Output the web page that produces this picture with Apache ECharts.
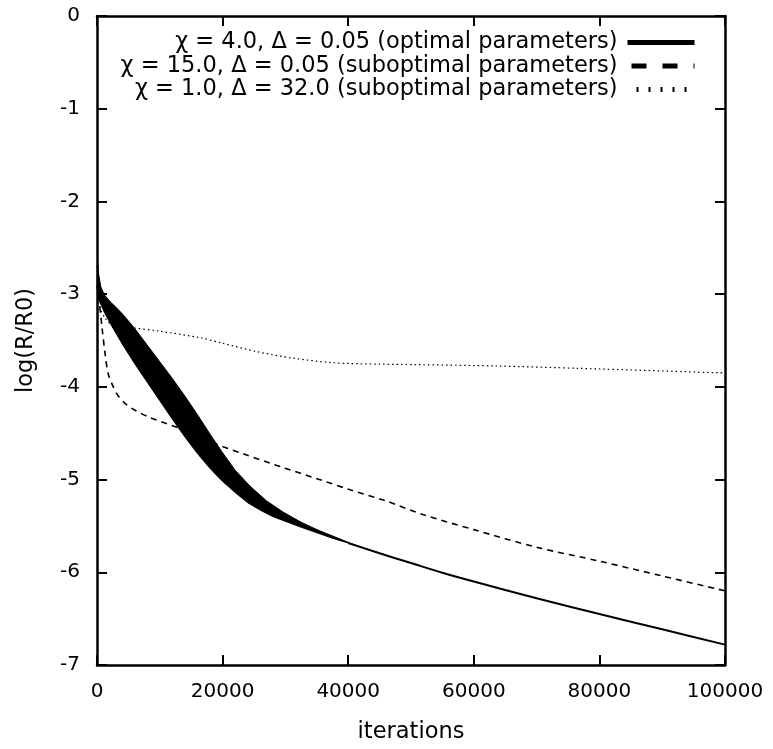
<!DOCTYPE html>
<html>
<head>
<meta charset="utf-8">
<script src="https://cdn.jsdelivr.net/npm/echarts@6/dist/echarts.min.js"></script>
<style>
html,body{margin:0;padding:0;background:#fff;}
#c{width:773px;height:749px;}
</style>
</head>
<body>
<div id="c"></div>
<script>
// Series names
const names = [
  'χ = 4.0, Δ = 0.05 (optimal parameters)',
  'χ = 15.0, Δ = 0.05 (suboptimal parameters)',
  'χ = 1.0, Δ = 32.0 (suboptimal parameters)'
];
// Optimal run: oscillation envelope (upper / lower) then a single line
const optUpper = [[0,-2.55],[250,-2.78],[600,-2.92],[1200,-3.01],[2070,-3.08],[3000,-3.14],[4140,-3.22],[6000,-3.37],[8000,-3.55],[10000,-3.73],[12000,-3.91],[14000,-4.10],[16000,-4.30],[18000,-4.51],[20000,-4.71],[22000,-4.90],[24360,-5.07],[27000,-5.23],[29620,-5.35],[32500,-5.46],[35030,-5.54],[40290,-5.685],[45000,-5.795]];
const optLower = [[0,-3.00],[478,-3.09],[1200,-3.20],[2070,-3.31],[3000,-3.42],[4140,-3.55],[6000,-3.75],[8000,-3.95],[10000,-4.15],[12000,-4.35],[14000,-4.54],[16000,-4.72],[18000,-4.88],[20000,-5.02],[22000,-5.14],[24000,-5.25],[26000,-5.33],[28030,-5.40],[32330,-5.51],[37580,-5.635],[40290,-5.69],[45000,-5.795]];
const optTail = [[40000,-5.685],[45000,-5.795],[50000,-5.90],[55000,-6.005],[60000,-6.10],[70000,-6.28],[80000,-6.45],[90000,-6.615],[100000,-6.78]];
// Suboptimal chi=15
const sub15 = [[0,-2.9],[300,-3.05],[800,-3.36],[1300,-3.65],[1750,-3.85],[2400,-3.97],[3300,-4.09],[4500,-4.18],[6000,-4.25],[8400,-4.33],[13200,-4.45],[17900,-4.59],[23600,-4.73],[29600,-4.87],[35000,-4.99],[40300,-5.11],[46000,-5.23],[52000,-5.38],[60000,-5.54],[70000,-5.73],[80000,-5.88],[90000,-6.04],[100000,-6.20]];
// Suboptimal chi=1
const sub1 = [[0,-2.7],[300,-3.1],[1300,-3.26],[2400,-3.33],[5370,-3.36],[10000,-3.40],[16400,-3.47],[20000,-3.53],[25400,-3.62],[31200,-3.69],[37700,-3.74],[45000,-3.755],[50600,-3.76],[63600,-3.775],[76600,-3.80],[100000,-3.85]];
// Axis ticks
const xTicks = {min:0, max:100000, step:20000};
const yTicks = {min:-7, max:0, step:1};

const FONT = 'DejaVu Sans';
const chart = echarts.init(document.getElementById('c'), null, {renderer:'canvas'});

const axLine = {show:true, onZero:false, lineStyle:{color:'#000', width:2.5}};
const axTick = {show:true, inside:true, length:10, lineStyle:{color:'#000', width:2}};
const hideDot = {opacity:0};

chart.setOption({
  animation:false,
  backgroundColor:'#fff',
  color:['#000','#000','#000','#000'],
  textStyle:{fontFamily:FONT},
  grid:{left:97, right:48, top:16, bottom:79.5, containLabel:false},
  legend:{
    orient:'vertical', right:76, top:31, align:'right',
    itemWidth:67, itemHeight:14, itemGap:0.5, padding:0,
    textStyle:{fontFamily:FONT, fontSize:22.5, color:'#000', padding:[0,5,0,0]},
    data:[
      {name:names[0], itemStyle:hideDot, lineStyle:{width:5, type:'solid', color:'#000'}},
      {name:names[1], itemStyle:hideDot, lineStyle:{width:5, type:[15,16], dashOffset:27, color:'#000'}},
      {name:names[2], itemStyle:hideDot, lineStyle:{width:5, type:[2,10], color:'#000'}}
    ]
  },
  xAxis:[
    {type:'value', position:'bottom', min:xTicks.min, max:xTicks.max, interval:xTicks.step,
     name:'iterations', nameLocation:'middle', nameGap:56,
     nameTextStyle:{fontFamily:FONT, fontSize:22.5, color:'#000'},
     axisLine:axLine, axisTick:axTick, splitLine:{show:false},
     axisLabel:{fontFamily:FONT, fontSize:20, color:'#000', margin:17, formatter:v=>String(v)}},
    {type:'value', position:'top', min:xTicks.min, max:xTicks.max, interval:xTicks.step,
     axisLine:axLine, axisTick:axTick, splitLine:{show:false}, axisLabel:{show:false}}
  ],
  yAxis:[
    {type:'value', position:'left', min:yTicks.min, max:yTicks.max, interval:yTicks.step,
     name:'log(R/R0)', nameLocation:'middle', nameGap:59, nameRotate:90,
     nameTextStyle:{fontFamily:FONT, fontSize:22.5, color:'#000'},
     axisLine:axLine, axisTick:axTick, splitLine:{show:false},
     axisLabel:{fontFamily:FONT, fontSize:20, color:'#000', margin:17, formatter:v=>String(v)}},
    {type:'value', position:'right', min:yTicks.min, max:yTicks.max, interval:yTicks.step,
     axisLine:axLine, axisTick:axTick, splitLine:{show:false}, axisLabel:{show:false}}
  ],
  series:[
    {name:names[0], type:'line', data:optTail, symbol:'none', smooth:0.3,
     itemStyle:{color:'#000'}, lineStyle:{color:'#000', width:2}, z:5},
    {name:names[0], type:'custom', data:[[optUpper[0][0], optUpper[0][1]]], clip:true, z:5,
     itemStyle:{color:'#000'},
     renderItem:function(params, api){
       const pts = optUpper.map(p=>api.coord(p)).concat(optLower.slice().reverse().map(p=>api.coord(p)));
       return {type:'polygon', shape:{points:pts}, style:{fill:'#000', stroke:'#000', lineWidth:1}};
     }},
    {name:names[1], type:'line', data:sub15, symbol:'none', smooth:0.3,
     itemStyle:{color:'#000'}, lineStyle:{color:'#000', width:1.6, type:[6,5]}, z:4},
    {name:names[2], type:'line', data:sub1, symbol:'none', smooth:0.3,
     itemStyle:{color:'#000'}, lineStyle:{color:'#000', width:1.2, type:[1.5,3]}, z:3}
  ]
});
</script>
</body>
</html>
